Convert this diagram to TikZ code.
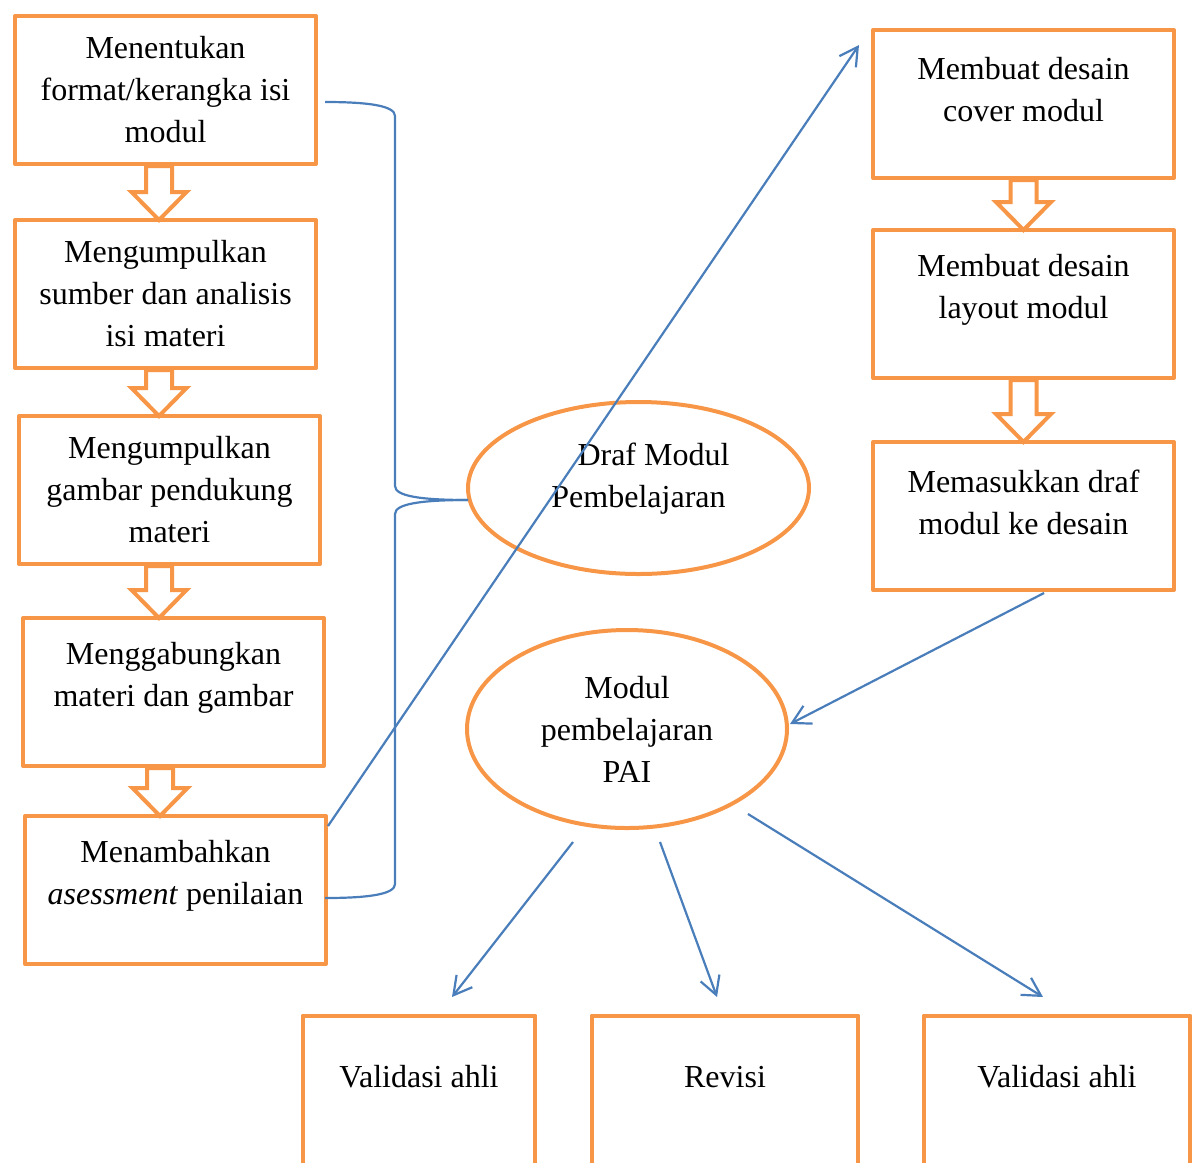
\documentclass[tikz,border=0pt]{standalone}
\usepackage{fontspec}
\setmainfont{Liberation Serif}
\usetikzlibrary{arrows.meta,shapes.geometric,calc,backgrounds}
\definecolor{orangec}{RGB}{247,150,70}
\definecolor{bluec}{RGB}{74,126,187}
\tikzset{
  txt/.style={font=\fontsize{16pt}{21pt}\selectfont},
  box/.style={txt, draw=orangec, line width=2pt, line join=round, minimum width=150.5pt, minimum height=74pt, inner sep=0pt, text width=145pt, align=flush center},
  oval/.style={txt, ellipse, draw=orangec, line width=2pt, inner sep=0pt, align=flush center},
  openbox/.style={txt, draw=none, minimum height=61pt, inner sep=0pt},
  openedge/.style={draw=orangec, line width=2pt, line join=round},
  harrow/.style={draw=orangec, line width=2pt, fill=white, line join=miter},
  link/.style={draw=bluec, line width=1.1pt, -{Straight Barb[length=9pt,width=10pt]}},
  brace/.style={draw=bluec, line width=1.1pt},
}
\newcommand\hollowarrow[3]{%
  \draw[harrow] let \p1=(#1.south), \p2=(#2.north) in
    ({\x1+(#3)-6.5pt},\y1) -- ({\x1+(#3)+6.5pt},\y1) -- ({\x1+(#3)+6.5pt},{\y2+13pt})
    -- ({\x1+(#3)+13.75pt},{\y2+13pt}) -- ({\x1+(#3)},{\y2-1pt})
    -- ({\x1+(#3)-13.75pt},{\y2+13pt}) -- ({\x1+(#3)-6.5pt},{\y2+13pt}) -- cycle;}
\begin{document}
\begin{tikzpicture}[x=0.5pt,y=-0.5pt]
\useasboundingbox (0,0) rectangle (1197,1162);
\clip (0,0) rectangle (1197,1162);

% left column
\node[box] (b1) at (165.5,90) {Menentukan\\format/kerangka isi\\modul};
\node[box] (b2) at (165.5,294) {Mengumpulkan\\sumber dan analisis\\isi materi};
\node[box] (b3) at (169.5,490) {Mengumpulkan\\gambar pendukung\\materi};
\node[box] (b4) at (173.5,692) {Menggabungkan\\materi dan gambar\par\kern14pt};
\node[box] (b5) at (175.5,890) {Menambahkan\\\textit{asessment} penilaian\par\kern14pt};

% right column
\node[box] (r1) at (1023.5,104) {Membuat desain\\cover modul\par\kern14pt};
\node[box] (r2) at (1023.5,304) {Membuat desain\\layout modul\par\kern14pt};
\node[box] (r3) at (1023.5,516) {Memasukkan draf\\modul ke desain\par\kern14pt};

% ellipses
\node[oval, minimum width=170.5pt, minimum height=86pt, text width=95pt] (e1) at (638.5,488)
  {\hspace*{15pt}Draf Modul\\Pembelajaran\par\kern9pt};
\node[oval, minimum width=160pt, minimum height=99pt, text width=95pt] (e2) at (627,729)
  {Modul\\pembelajaran\\PAI};

% bottom (cut-off) boxes
\node[openbox, minimum width=116pt] (v1) at (419,1077) {Validasi ahli};
\node[openbox, minimum width=133pt] (v2) at (725,1077) {Revisi};
\node[openbox, minimum width=133pt] (v3) at (1057,1077) {Validasi ahli};
\foreach \v in {v1,v2,v3}{
  \draw[openedge] ([yshift=-100pt]\v.north west) -- (\v.north west) -- (\v.north east) -- ([yshift=-100pt]\v.north east);
}

% hollow block arrows
\begin{scope}[on background layer]
\hollowarrow{b1}{b2}{-3.25pt}
\hollowarrow{b2}{b3}{-3.25pt}
\hollowarrow{b3}{b4}{-5.25pt}
\hollowarrow{b4}{b5}{-6.75pt}
\hollowarrow{r1}{r2}{0pt}
\hollowarrow{r2}{r3}{0pt}
\end{scope}

% brace gathering the left steps into the draft
\coordinate (b1r) at (325,102);
\coordinate (b5r) at (325,898);
\coordinate (e1tip) at (468,500);
\draw[brace] (b1r) .. controls (370,102) and (395,106) .. (395,116) -- (395,486)
  .. controls (395,496) and (420,500) .. (e1tip);
\draw[brace] (e1tip) .. controls (420,500) and (395,504) .. (395,514) -- (395,884)
  .. controls (395,894) and (370,898) .. (b5r);

% blue arrows
\coordinate (s1) at (328,826);  \coordinate (t1) at (859,45);
\coordinate (s2) at (1044,593); \coordinate (t2) at (790,724);
\coordinate (s3) at (573,842);  \coordinate (t3) at (452,997);
\coordinate (s4) at (660,842);  \coordinate (t4) at (717,997);
\coordinate (s5) at (748,814);  \coordinate (t5) at (1043,997);
\draw[link] (s1) -- (t1);
\draw[link] (s2) -- (t2);
\draw[link] (s3) -- (t3);
\draw[link] (s4) -- (t4);
\draw[link] (s5) -- (t5);
\end{tikzpicture}
\end{document}
